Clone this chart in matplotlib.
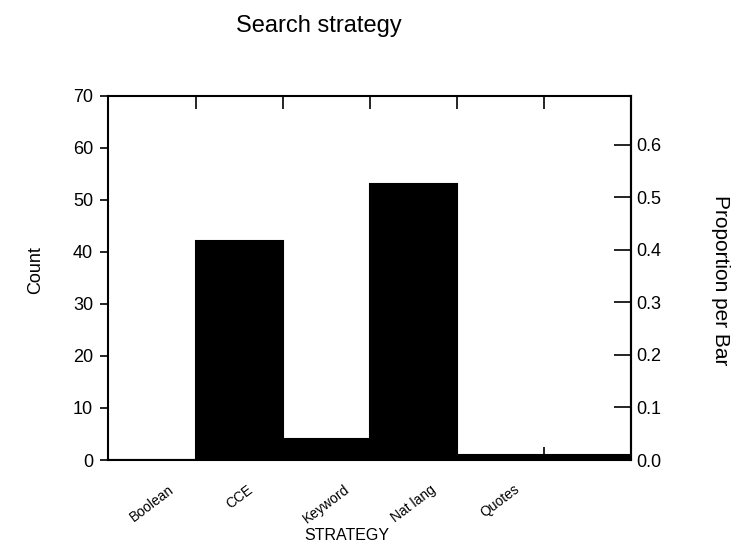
import matplotlib.pyplot as plt
import numpy as np

plt.rcParams['font.family'] = ['Liberation Sans', 'DejaVu Sans']

categories = ["Boolean", "CCE", "Keyword", "Nat lang", "Quotes", ""]
counts = [0, 42, 4, 53, 1, 1]
count_ticks = [0, 10, 20, 30, 40, 50, 60, 70]
prop_ticks = [0.0, 0.1, 0.2, 0.3, 0.4, 0.5, 0.6]

total = sum(counts)
edges = np.arange(len(counts) + 1)
centers = edges[:-1] + 0.5

fig = plt.figure(figsize=(7.37, 5.44), dpi=100)
ax = fig.add_axes([0.1472, 0.1544, 0.7090, 0.6696])

ax.bar(edges[:-1], counts, width=1.0, align="edge",
       color="black", edgecolor="black", linewidth=1.5)

ax.set_xlim(edges[0], edges[-1])
ax.set_ylim(0, 70)
ax.set_yticks(count_ticks)
ax.tick_params(axis="y", direction="out", length=6, width=1.2,
               labelsize=13, pad=5)

# bin edges as inward ticks on top and bottom
ax.set_xticks(edges[1:-1])
ax.tick_params(axis="x", which="major", direction="in", length=9.5,
               width=1.2, top=True, bottom=True, labelbottom=False)

# category names at bin centres
ax.set_xticks(centers, minor=True)
ax.set_xticklabels(categories, minor=True, rotation=37, ha="center",
                   fontsize=10)
ax.tick_params(axis="x", which="minor", length=0, pad=16)

# proportion axis on the right
right = ax.secondary_yaxis("right", functions=(lambda c: c / total,
                                               lambda p: p * total))
right.set_yticks(prop_ticks)
right.set_yticklabels(["%.1f" % p for p in prop_ticks])
right.tick_params(direction="in", length=12.5, width=1.2, labelsize=13, pad=4)

for spine in ax.spines.values():
    spine.set_linewidth(1.5)
for spine in right.spines.values():
    spine.set_linewidth(1.5)

fig.text(0.432, 0.953, "Search strategy", ha="center", va="center", fontsize=17)
fig.text(0.47, 0.016, "STRATEGY", ha="center", va="center", fontsize=11.5)
fig.text(0.048, 0.504, "Count", ha="center", va="center", rotation=90,
         fontsize=13)
fig.text(0.978, 0.485, "Proportion per Bar", ha="center", va="center",
         rotation=-90, fontsize=15)

fig.savefig("out.png", dpi=100)
